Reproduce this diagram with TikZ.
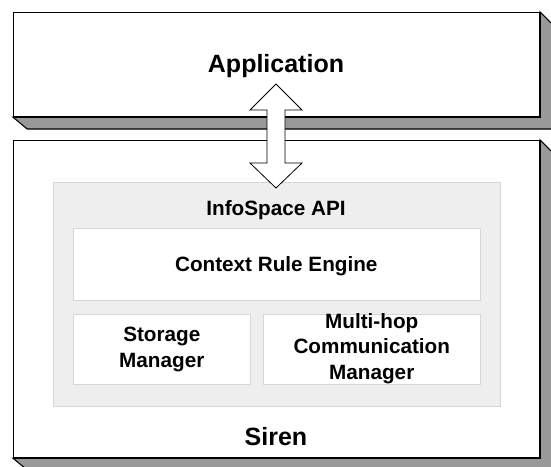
\documentclass[tikz,border=0pt]{standalone}
\usepackage{fontspec}
\setmainfont{Liberation Sans}
\begin{document}
\begin{tikzpicture}[x=1pt,y=-1pt,
  frontbox/.style={draw=black,line width=1.2pt,fill=white,inner sep=0pt,anchor=north west},
  shadowface/.style={draw=black,line width=1.1pt,fill=shadegray,line join=miter},
  apibox/.style={draw=boxline,line width=0.9pt,fill=apigray,inner sep=0pt,anchor=north west},
  compbox/.style={draw=boxline,line width=0.9pt,fill=white,inner sep=0pt,anchor=north west},
  biglabel/.style={font=\bfseries\fontsize{25}{30}\selectfont,inner sep=0pt},
  smalllabel/.style={font=\bfseries\fontsize{20.7}{25.5}\selectfont,inner sep=0pt,align=center},
  blockarrow/.style={draw=black,line width=0.8pt,fill=white,line join=miter}]
\definecolor{shadegray}{HTML}{999999}
\definecolor{apigray}{HTML}{EEEEEE}
\definecolor{boxline}{HTML}{D6D6D6}
\useasboundingbox (0,0) rectangle (551,466);
\clip (0,0) rectangle (551,466);
% Application layer
\fill[white] (0,0) rectangle (551,466);
\node[frontbox,minimum width=526pt,minimum height=104pt] (app) at (13,12) {};
\draw[shadowface] (app.north east) -- ++(13,13) -- ++(0,104) -- ++(-526,0) -- (app.south west) -- (app.south east) -- cycle;
\node[biglabel,anchor=base] (applabel) at (276,72) {Application};
% Siren layer
\node[frontbox,minimum width=526pt,minimum height=317pt] (siren) at (13,140) {};
\draw[shadowface] (siren.north east) -- ++(13,13) -- ++(0,317) -- ++(-526,0) -- (siren.south west) -- (siren.south east) -- cycle;
\node[biglabel,anchor=base] (sirenlabel) at (276,445) {Siren};
% InfoSpace API
\node[apibox,minimum width=446.5pt,minimum height=224pt] (api) at (53,182) {};
\node[smalllabel,anchor=base] (apilabel) at (276,215) {InfoSpace API};
\node[compbox,minimum width=407.3pt,minimum height=71.7pt] (cre) at (72.7,228.3) {};
\node[smalllabel,anchor=base] (crelabel) at (276.3,271.5) {Context Rule Engine};
\node[compbox,minimum width=177.3pt,minimum height=70pt] (store) at (72.7,314) {};
\node[smalllabel] (storelabel) at (store.center) {Storage\\Manager};
\node[compbox,minimum width=216.6pt,minimum height=70pt] (multi) at (263,314) {};
\node[smalllabel] (multilabel) at ([yshift=1pt]multi.center) {Multi-hop\\Communication\\Manager};
% double block arrow between Application and Siren
\coordinate (atop) at (276,84);
\coordinate (abot) at (276,188);
\draw[blockarrow] (atop) -- (302,110) -- (285,110) -- (285,163) -- (302,163) -- (abot)
  -- (250,163) -- (267,163) -- (267,110) -- (250,110) -- cycle;
\end{tikzpicture}
\end{document}
